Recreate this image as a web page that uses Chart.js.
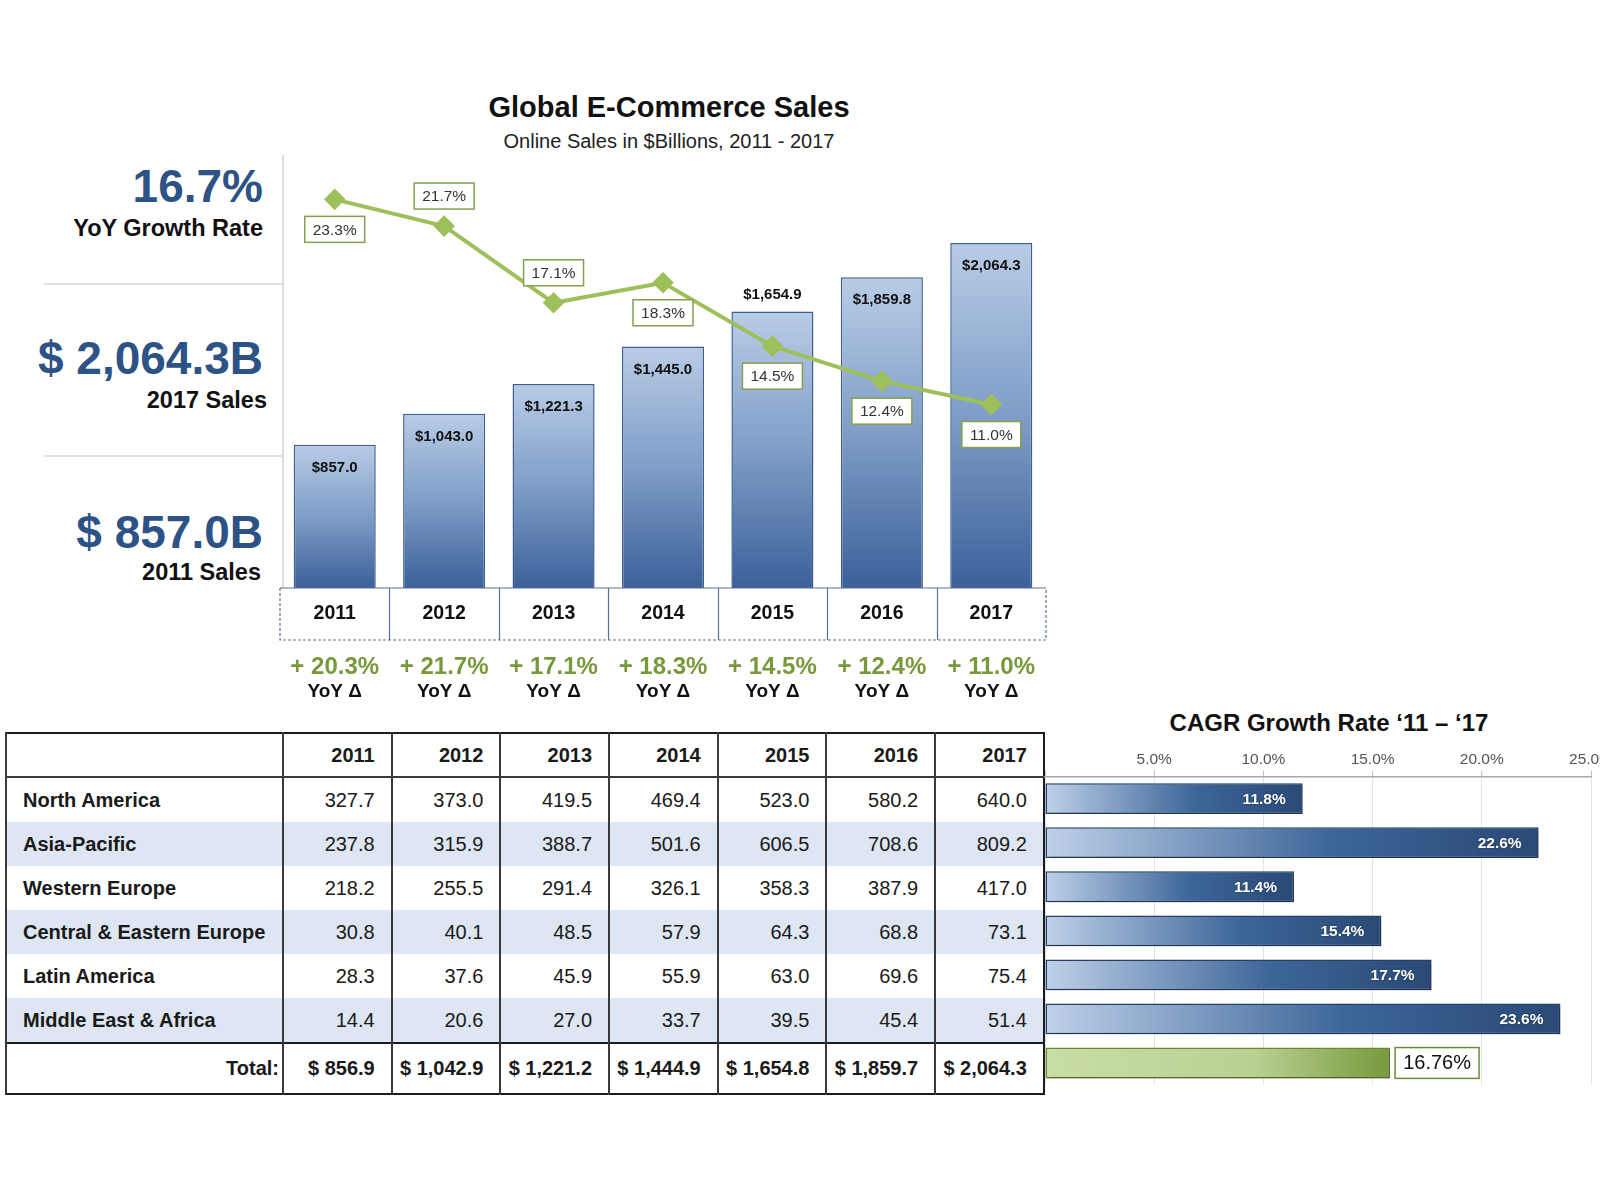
<!DOCTYPE html>
<html>
<head>
<meta charset="utf-8">
<title>Global E-Commerce Sales</title>
<script src="https://cdn.jsdelivr.net/npm/chart.js@4.4.1/dist/chart.umd.min.js"></script>
<style>
  html, body { margin: 0; padding: 0; background: #fff; overflow: hidden; }
  body { position: relative; width: 1600px; height: 1200px; font-family: "Liberation Sans", Arial, Helvetica, sans-serif; color: #111; }
  .t { position: absolute; white-space: nowrap; line-height: 1.15; }
  .r { transform: translate(-100%, -50%); }
  .c { transform: translate(-50%, -50%); }
  .kpi { color: #2d5286; font-weight: bold; font-size: 46px; }
  .kpiSub { font-weight: bold; font-size: 23.5px; color: #111; }
  .sep { position: absolute; left: 44px; width: 239px; height: 0; border-top: 2px solid #e2e2e2; }
  #mainWrap { position: absolute; left: 276px; top: 150px; width: 780px; height: 560px; }
  #cagrWrap { position: absolute; left: 1043px; top: 740px; width: 590px; height: 354px; }
  table { position: absolute; left: 5px; top: 732px; border-collapse: collapse; table-layout: fixed; width: 1038px; border: 2px solid #1c1c1c; }
  th, td { font-size: 20px; text-align: right; padding: 0 16px 0 0; border-left: 2px solid #3a3a3a; white-space: nowrap; color: #1a1a1a; }
  th { height: 42px; font-weight: bold; border-bottom: 2px solid #3a3a3a; }
  td { height: 44px; }
  tr.alt td { background: #dde6f2; }
  td.lbl { text-align: left; padding-left: 16px; font-weight: bold; }
  tr.tot td { height: 49px; font-weight: bold; border-top: 2px solid #1c1c1c; }
  tr.tot td.lbl { text-align: right; padding: 0 3px 0 0; }
</style>
</head>
<body>

<div class="t c" style="left:669px; top:108px; font-size:29px; font-weight:bold;">Global E-Commerce Sales</div>
<div class="t c" style="left:669px; top:141px; font-size:20px; color:#222;">Online Sales in $Billions, 2011 - 2017</div>

<div class="t r kpi" style="left:263px; top:186px;">16.7%</div>
<div class="t r kpiSub" style="left:263px; top:229px;">YoY Growth Rate</div>
<div class="sep" style="top:283px;"></div>
<div class="t r kpi" style="left:263px; top:358px;">$ 2,064.3B</div>
<div class="t r kpiSub" style="left:267px; top:401px;">2017 Sales</div>
<div class="sep" style="top:455px;"></div>
<div class="t r kpi" style="left:263px; top:532px;">$ 857.0B</div>
<div class="t r kpiSub" style="left:261px; top:573px;">2011 Sales</div>

<div id="mainWrap"><canvas id="mainChart" width="780" height="560"></canvas></div>

<table id="regionTable"></table>

<div class="t c" style="left:1329px; top:723px; font-size:24px; font-weight:bold;">CAGR Growth Rate ‘11 – ‘17</div>
<div id="cagrWrap"><canvas id="cagrChart" width="590" height="354"></canvas></div>

<script>
const years = ["2011", "2012", "2013", "2014", "2015", "2016", "2017"];
const totalSales = [857.0, 1043.0, 1221.3, 1445.0, 1654.9, 1859.8, 2064.3];
const growthLine = [23.3, 21.7, 17.1, 18.3, 14.5, 12.4, 11.0];
const yoyDelta = [20.3, 21.7, 17.1, 18.3, 14.5, 12.4, 11.0];

const regions = ["North America", "Asia-Pacific", "Western Europe", "Central & Eastern Europe", "Latin America", "Middle East & Africa"];
const northAmerica = [327.7, 373.0, 419.5, 469.4, 523.0, 580.2, 640.0];
const asiaPacific = [237.8, 315.9, 388.7, 501.6, 606.5, 708.6, 809.2];
const westernEurope = [218.2, 255.5, 291.4, 326.1, 358.3, 387.9, 417.0];
const centralEasternEurope = [30.8, 40.1, 48.5, 57.9, 64.3, 68.8, 73.1];
const latinAmerica = [28.3, 37.6, 45.9, 55.9, 63.0, 69.6, 75.4];
const middleEastAfrica = [14.4, 20.6, 27.0, 33.7, 39.5, 45.4, 51.4];
const tableTotals = [856.9, 1042.9, 1221.2, 1444.9, 1654.8, 1859.7, 2064.3];

const cagrCategories = [...regions, "Total"];
const cagrBars = [11.8, 22.6, 11.4, 15.4, 17.7, 23.6, 15.8];
const cagrLabels = ["11.8%", "22.6%", "11.4%", "15.4%", "17.7%", "23.6%", "16.76%"];
const cagrTicks = [0, 5, 10, 15, 20, 25];

// where the value tags sit (above or below the mark)
const growthLabelAbove = [false, true, true, false, false, false, false];
const salesLabelAbove = [false, false, false, false, true, false, false];

const FONT = '"Liberation Sans", Arial, sans-serif';
const money = (v) => v.toLocaleString("en-US", { minimumFractionDigits: 1, maximumFractionDigits: 1 });

// ---- table ----
const regionRows = [northAmerica, asiaPacific, westernEurope, centralEasternEurope, latinAmerica, middleEastAfrica];
let html = '<colgroup><col style="width:277px">' + years.map(() => '<col style="width:108.7px">').join("") + "</colgroup>";
html += "<tr><th></th>" + years.map((y) => `<th>${y}</th>`).join("") + "</tr>";
regions.forEach((r, i) => {
  html += `<tr class="${i % 2 ? "alt" : ""}"><td class="lbl">${r.replace("&", "&amp;")}</td>` +
    regionRows[i].map((v) => `<td>${v.toFixed(1)}</td>`).join("") + "</tr>";
});
html += '<tr class="tot"><td class="lbl">Total:</td>' + tableTotals.map((v) => `<td>$ ${money(v)}</td>`).join("") + "</tr>";
document.getElementById("regionTable").innerHTML = html;

// ---- main chart ----
function barFill(context) {
  const chart = context.chart;
  const y = chart.scales.y;
  if (!chart.chartArea || !y || context.type !== "data") return "#7f9cc6";
  const top = y.getPixelForValue(context.raw);
  const bottom = y.getPixelForValue(0);
  const g = chart.ctx.createLinearGradient(0, top, 0, bottom);
  g.addColorStop(0, "#b9cce6");
  g.addColorStop(0.5, "#7f9dc7");
  g.addColorStop(1, "#3b6199");
  return g;
}

const mainDecor = {
  id: "mainDecor",
  afterDatasetsDraw(chart) {
    const { ctx, chartArea: a, scales: { x, y, y2 } } = chart;
    ctx.save();
    ctx.strokeStyle = "#dedede";
    ctx.lineWidth = 2;
    ctx.beginPath();
    ctx.moveTo(a.left + 3, a.top - 3);
    ctx.lineTo(a.left + 3, a.bottom);
    ctx.stroke();

    ctx.textAlign = "center";
    ctx.textBaseline = "middle";

    ctx.font = "bold 15px " + FONT;
    ctx.fillStyle = "#111";
    totalSales.forEach((v, i) => {
      const top = y.getPixelForValue(v);
      ctx.fillText("$" + money(v), x.getPixelForValue(i), salesLabelAbove[i] ? top - 17 : top + 23);
    });

    ctx.font = "15.5px " + FONT;
    growthLine.forEach((v, i) => {
      const px = x.getPixelForValue(i);
      const py = y2.getPixelForValue(v) + (growthLabelAbove[i] ? -30 : 30);
      const txt = v.toFixed(1) + "%";
      const w = ctx.measureText(txt).width + 16, h = 26;
      ctx.fillStyle = "#fff";
      ctx.fillRect(px - w / 2, py - h / 2, w, h);
      ctx.strokeStyle = "#86a04f";
      ctx.lineWidth = 1.5;
      ctx.strokeRect(px - w / 2, py - h / 2, w, h);
      ctx.fillStyle = "#333";
      ctx.fillText(txt, px, py + 1);
    });

    // year boxes
    const top = a.bottom, bot = a.bottom + 52;
    ctx.strokeStyle = "#5d7090";
    ctx.lineWidth = 1.2;
    ctx.beginPath();
    ctx.moveTo(a.left, top);
    ctx.lineTo(a.right, top);
    for (let i = 1; i < years.length; i++) {
      const bx = Math.round((x.getPixelForValue(i - 1) + x.getPixelForValue(i)) / 2) + 0.5;
      ctx.moveTo(bx, top);
      ctx.lineTo(bx, bot);
    }
    ctx.stroke();
    ctx.setLineDash([3, 2]);
    ctx.beginPath();
    ctx.moveTo(a.left, top);
    ctx.lineTo(a.left, bot);
    ctx.lineTo(a.right, bot);
    ctx.lineTo(a.right, top);
    ctx.stroke();
    ctx.setLineDash([]);

    ctx.font = "bold 19.5px " + FONT;
    ctx.fillStyle = "#111";
    years.forEach((yr, i) => ctx.fillText(yr, x.getPixelForValue(i), top + 26));

    ctx.font = "bold 24px " + FONT;
    ctx.fillStyle = "#78983c";
    yoyDelta.forEach((v, i) => ctx.fillText("+ " + v.toFixed(1) + "%", x.getPixelForValue(i), top + 79));
    ctx.font = "bold 19px " + FONT;
    ctx.fillStyle = "#111";
    years.forEach((yr, i) => ctx.fillText("YoY Δ", x.getPixelForValue(i), top + 104));
    ctx.restore();
  }
};

new Chart(document.getElementById("mainChart"), {
  type: "bar",
  data: {
    labels: years,
    datasets: [
      {
        type: "line",
        data: growthLine,
        yAxisID: "y2",
        borderColor: "#9dc05b",
        borderWidth: 4,
        pointStyle: "rectRot",
        pointRadius: 8,
        pointBackgroundColor: "#9dc05b",
        pointBorderColor: "#9dc05b",
        tension: 0,
        order: 0
      },
      {
        type: "bar",
        data: totalSales,
        yAxisID: "y",
        backgroundColor: barFill,
        borderColor: "#3e5f90",
        borderWidth: 1.5,
        barPercentage: 0.75,
        categoryPercentage: 1,
        order: 1
      }
    ]
  },
  options: {
    responsive: false,
    animation: false,
    layout: { autoPadding: false, padding: { left: 4, right: 10, top: 8, bottom: 122 } },
    plugins: { legend: { display: false }, tooltip: { enabled: false } },
    scales: {
      x: { display: false, offset: true },
      y: { display: false, min: 0, max: 2573 },
      y2: { display: false, min: 0, max: 25.78 }
    }
  },
  plugins: [mainDecor]
});

// ---- CAGR chart ----
function cagrFill(context) {
  const chart = context.chart;
  const xs = chart.scales.x;
  if (!chart.chartArea || !xs || context.type !== "data") return "#4a6fa0";
  const x0 = xs.getPixelForValue(0), x1 = xs.getPixelForValue(context.raw);
  const g = chart.ctx.createLinearGradient(x0, 0, x1, 0);
  if (context.dataIndex === cagrBars.length - 1) {
    g.addColorStop(0, "#c9dda6");
    g.addColorStop(0.6, "#bad194");
    g.addColorStop(1, "#78993c");
  } else {
    g.addColorStop(0, "#bfd1e9");
    g.addColorStop(0.58, "#3d6699");
    g.addColorStop(1, "#2a4976");
  }
  return g;
}

const cagrDecor = {
  id: "cagrDecor",
  beforeDatasetsDraw(chart) {
    const ctx = chart.ctx;
    ctx.save();
    ctx.shadowColor = "rgba(0,0,0,0.28)";
    ctx.shadowBlur = 3;
    ctx.shadowOffsetX = 2;
    ctx.shadowOffsetY = 2;
  },
  afterDatasetsDraw(chart) {
    const ctx = chart.ctx;
    ctx.restore();
    ctx.save();
    const bars = chart.getDatasetMeta(0).data;
    ctx.textBaseline = "middle";
    bars.forEach((bar, i) => {
      if (i < cagrBars.length - 1) {
        ctx.font = "bold 15.5px " + FONT;
        ctx.textAlign = "right";
        ctx.fillStyle = "#fff";
        ctx.shadowColor = "rgba(0,0,0,0.45)";
        ctx.shadowBlur = 2;
        ctx.fillText(cagrLabels[i], bar.x - 17, bar.y + 1);
        ctx.shadowColor = "transparent";
      } else {
        const h = bar.height, w = 84, bx = bar.x + 5, by = bar.y - h / 2;
        ctx.fillStyle = "#fff";
        ctx.fillRect(bx, by, w, h);
        ctx.strokeStyle = "#6e8a3e";
        ctx.lineWidth = 1.5;
        ctx.strokeRect(bx, by, w, h);
        ctx.font = "20px " + FONT;
        ctx.textAlign = "center";
        ctx.fillStyle = "#111";
        ctx.fillText(cagrLabels[i], bx + w / 2, bar.y + 1);
      }
    });
    ctx.restore();
  }
};

new Chart(document.getElementById("cagrChart"), {
  type: "bar",
  data: {
    labels: cagrCategories,
    datasets: [{
      data: cagrBars,
      backgroundColor: cagrFill,
      borderColor: (c) => (c.dataIndex === cagrBars.length - 1 ? "#6b8a36" : "#23406a"),
      borderWidth: 1.5,
      borderSkipped: false,
      barPercentage: 0.7,
      categoryPercentage: 1
    }]
  },
  options: {
    indexAxis: "y",
    responsive: false,
    animation: false,
    layout: { padding: { left: 0, right: 42, top: 8, bottom: 9 } },
    plugins: { legend: { display: false }, tooltip: { enabled: false } },
    scales: {
      x: {
        position: "top",
        min: 0,
        max: 25,
        afterBuildTicks: (s) => { s.ticks = cagrTicks.map((v) => ({ value: v })); },
        ticks: {
          callback: (v) => (v === 0 ? "" : Number(v).toFixed(1) + "%"),
          font: { family: FONT, size: 15.5 },
          color: "#555",
          padding: 2,
          maxRotation: 0,
          autoSkip: false
        },
        grid: { color: "#e3e3e3", lineWidth: 1, tickLength: 6, tickColor: "#c4c4c4" },
        border: { color: "#a8a8a8", width: 1.5 }
      },
      y: { display: false }
    }
  },
  plugins: [cagrDecor]
});
</script>
</body>
</html>
